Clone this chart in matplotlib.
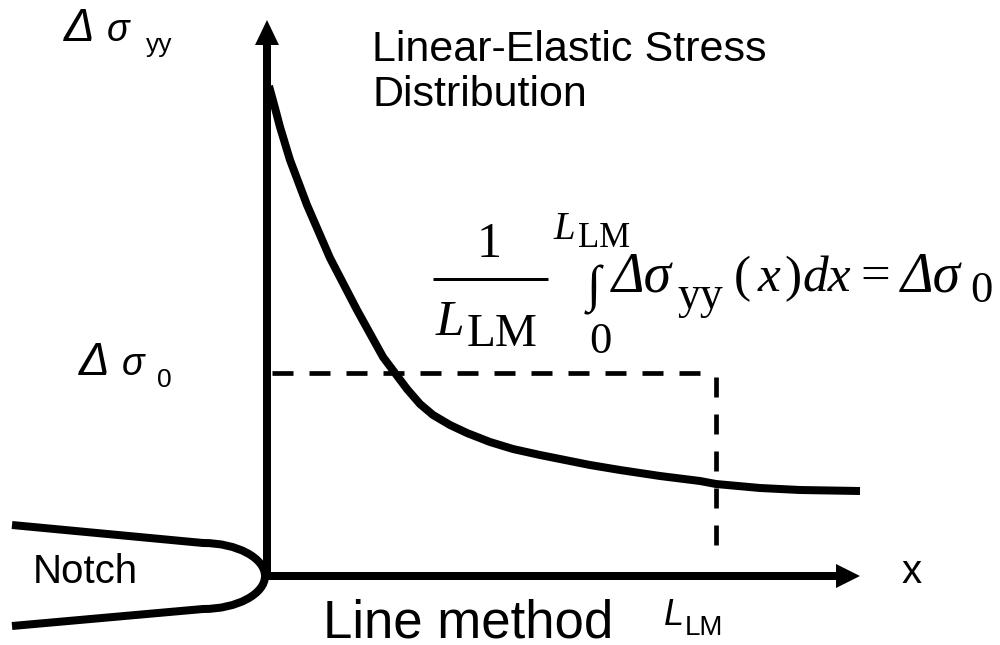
import matplotlib
matplotlib.use("Agg")
import matplotlib.pyplot as plt
from matplotlib.path import Path
from matplotlib.patches import PathPatch

# ---- data (figure works in pixel-like units, y downward) ----
curve_x = [269, 275, 280, 290, 307, 330, 357, 383, 395, 407, 420, 433, 450, 467, 490, 513,
           540, 560, 590, 620, 660, 700, 716, 760, 800, 860]
curve_y = [86, 108, 127, 160, 205, 258, 310, 357, 373, 389, 404, 415, 425, 433, 442, 449,
           455, 459, 465, 470, 476, 481, 484, 488, 490, 491]

origin_x, origin_y = 267, 576      # notch tip / axes origin
y_axis_top = 20
x_axis_end = 860
sigma0_level = 373                 # Δσ0 level
L_LM_x = 716                       # line-method length
L_LM_dash_bottom = 548

notch_verts = [(12, 525), (203, 543), (237, 543), (265, 558), (265, 576),
               (265, 594), (237, 609), (203, 609), (12, 626)]
notch_codes = [Path.MOVETO, Path.LINETO, Path.CURVE4, Path.CURVE4, Path.CURVE4,
               Path.CURVE4, Path.CURVE4, Path.CURVE4, Path.LINETO]

SANS = "Liberation Sans"
SERIF = "Liberation Serif"

fig = plt.figure(figsize=(10, 6.45), dpi=100)
ax = fig.add_axes([0, 0, 1, 1])
ax.set_xlim(0, 1000)
ax.set_ylim(645, 0)
ax.axis("off")

PX = 0.72  # px -> pt

# axes arrows
ax.arrow(origin_x, origin_y + 2, 0, y_axis_top - origin_y - 2, width=8, head_width=24,
         head_length=25, length_includes_head=True, color="k", lw=0)
ax.arrow(origin_x - 4, origin_y, x_axis_end - origin_x + 4, 0, width=8, head_width=24,
         head_length=24, length_includes_head=True, color="k", lw=0)

# notch
ax.add_patch(PathPatch(Path(notch_verts, notch_codes), fill=False, lw=8 * PX,
                       edgecolor="k", capstyle="butt"))

# stress curve
ax.plot(curve_x, curve_y, color="k", lw=8 * PX, solid_joinstyle="round", solid_capstyle="butt")

# dashed lines
dash_lw = 4.7 * PX
ax.plot([272, L_LM_x - 4], [sigma0_level, sigma0_level], color="k", lw=dash_lw,
        linestyle=(0, (21 * PX / dash_lw, 16 * PX / dash_lw)), dash_capstyle="butt")
ax.plot([L_LM_x, L_LM_x], [sigma0_level + 4, L_LM_dash_bottom], color="k", lw=dash_lw,
        linestyle=(0, (20 * PX / dash_lw, 17 * PX / dash_lw)), dash_capstyle="butt")

# sans labels
def t(x, y, s, size, fam=SANS, style="normal"):
    ax.text(x, y, s, family=fam, style=style, fontsize=size, va="baseline", ha="left")

t(64, 41, "Δ", 33, style="italic")
t(107, 41, "σ", 27, style="italic")
t(146, 52, "yy", 19)
t(79, 375, "Δ", 33, style="italic")
t(122, 375, "σ", 27, style="italic")
t(157, 387, "0", 19)

t(372, 61, "Linear-Elastic Stress", 31)
t(372, 106, "Distribution", 31)
t(33, 583, "Notch", 29)
t(902, 583, "x", 29)
t(323, 637, "Line method", 38)
t(664, 625, "L", 26, style="italic")
t(685, 635, "LM", 20)

# formula (Times-like)
ax.text(489, 257, "1", family=SERIF, fontsize=36, va="baseline", ha="center")
ax.plot([433, 548], [279, 279], color="k", lw=3 * PX, solid_capstyle="butt")
t(436, 335, "L", 37, SERIF, "italic")
t(467, 346, "LM", 34, SERIF)
t(553, 239, "L", 28, SERIF, "italic")
t(578, 247, "LM", 25, SERIF)
t(587, 301, "∫", 37, SERIF)
t(589, 353, "0", 32, SERIF)

t(612, 291, "Δσ", 40, SERIF, "italic")
t(678, 308, "yy", 33, SERIF)
t(734, 291, "(", 37, SERIF)
t(758, 291, "x", 37, SERIF, "italic")
t(784, 291, ")", 37, SERIF)
t(802, 291, "dx", 37, SERIF, "italic")
t(860, 291, "=", 38, SERIF)
t(901, 291, "Δσ", 40, SERIF, "italic")
t(970, 302, "0", 32, SERIF)

fig.savefig("out.png", dpi=100)
